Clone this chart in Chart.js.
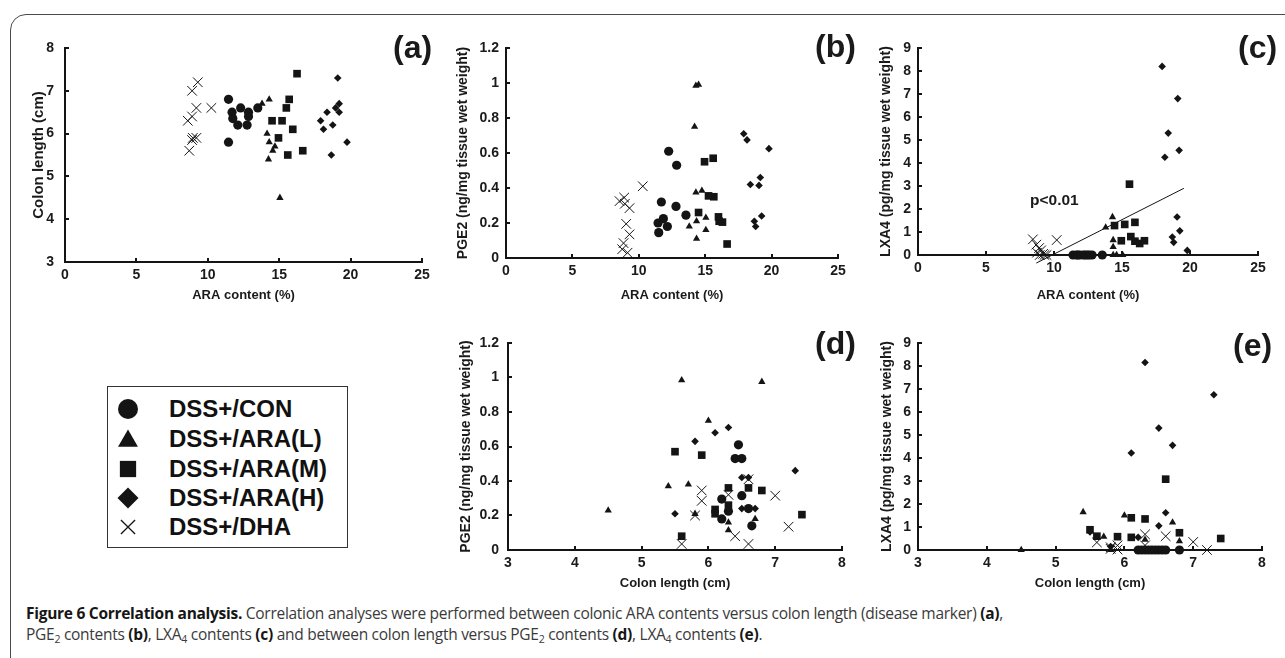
<!DOCTYPE html>
<html>
<head>
<meta charset="utf-8">
<script src="https://cdn.jsdelivr.net/npm/chart.js@4/dist/chart.umd.min.js"></script>
<style>
  html, body { margin:0; padding:0; background:#fff; width:1285px; height:658px; overflow:hidden; }
  #frame { position:absolute; left:10px; top:14px; width:1300px; height:720px; border:1.5px solid #4a4a4a; border-radius:16px; box-sizing:border-box; }
  canvas.pn { position:absolute; }
  .lab { position:absolute; font-family:"Liberation Sans", Arial, sans-serif; font-weight:bold; color:#1a1a1a; white-space:nowrap; }
  .letter { font-size:32px; line-height:32px; }
  #legend { position:absolute; left:107px; top:386px; width:241px; height:162px; border:1.5px solid #333; box-sizing:border-box; }
  #legend canvas { position:absolute; left:0; top:0; }
  #legend .it { position:absolute; left:61px; font-family:"Liberation Sans", Arial, sans-serif; font-weight:bold; font-size:24px; line-height:24px; color:#111; white-space:nowrap; }
  #caption { position:absolute; left:26px; top:603px; font-family:"Open Sans", "Noto Sans", sans-serif; font-size:15.5px; line-height:20.6px; color:#3a3a3a; white-space:nowrap; }
  #caption b { color:#161616; font-weight:700; }
  #caption sub { font-size:0.68em; vertical-align:-0.28em; line-height:0; }
</style>
</head>
<body>
<div id="frame"></div>

<canvas id="pa" class="pn"></canvas>
<canvas id="pb" class="pn"></canvas>
<canvas id="pc" class="pn"></canvas>
<canvas id="pd" class="pn"></canvas>
<canvas id="pe" class="pn"></canvas>

<div class="lab letter" style="left:393px; top:31px;">(a)</div>
<div class="lab letter" style="left:815px; top:30px;">(b)</div>
<div class="lab letter" style="left:1238px; top:31px;">(c)</div>
<div class="lab letter" style="left:815px; top:327px;">(d)</div>
<div class="lab letter" style="left:1233px; top:329px;">(e)</div>
<div class="lab" style="left:1030px; top:191px; font-size:15.5px; line-height:18px;">p&lt;0.01</div>

<div id="legend">
  <canvas id="legcv" width="60" height="160"></canvas>
  <div class="it" style="top:10px;">DSS+/CON</div>
  <div class="it" style="top:40px;">DSS+/ARA(L)</div>
  <div class="it" style="top:70px;">DSS+/ARA(M)</div>
  <div class="it" style="top:99px;">DSS+/ARA(H)</div>
  <div class="it" style="top:128px;">DSS+/DHA</div>
</div>

<div id="caption"><span id="cap1"><b>Figure 6 Correlation analysis.</b> Correlation analyses were performed between colonic ARA contents versus colon length (disease marker) <b>(a)</b>,</span><br><span id="cap2">PGE<sub>2</sub> contents <b>(b)</b>, LXA<sub>4</sub> contents <b>(c)</b> and between colon length versus PGE<sub>2</sub> contents <b>(d)</b>, LXA<sub>4</sub> contents <b>(e)</b>.</span></div>

<script>
// ---------------- DATA ----------------
const groups = ['DSS+/CON', 'DSS+/ARA(L)', 'DSS+/ARA(M)', 'DSS+/ARA(H)', 'DSS+/DHA'];

// tick labels
const xTicksARA   = [0, 5, 10, 15, 20, 25];
const xTicksColon = [3, 4, 5, 6, 7, 8];
const yTicksColon = [3, 4, 5, 6, 7, 8];
const yTicksPGE   = [0, 0.2, 0.4, 0.6, 0.8, 1, 1.2];
const yTicksLXA   = [0, 1, 2, 3, 4, 5, 6, 7, 8, 9];

// (a) ARA content (%) vs colon length (cm)
const aCONx = [11.45, 11.7, 12.3, 12.85, 12.85, 11.75, 12.1, 12.75, 11.45, 13.5];
const aCONy = [6.8, 6.5, 6.6, 6.5, 6.4, 6.35, 6.2, 6.2, 5.8, 6.6];
const aLx   = [13.8, 14.3, 14.15, 14.3, 14.7, 14.55, 14.25, 15.05];
const aLy   = [6.7, 6.8, 6.0, 5.8, 5.7, 5.6, 5.4, 4.5];
const aMx   = [16.25, 15.7, 15.5, 14.5, 15.2, 15.95, 14.95, 15.6, 16.65];
const aMy   = [7.4, 6.8, 6.6, 6.3, 6.3, 6.1, 5.9, 5.5, 5.6];
const aHx   = [19.1, 19.2, 18.95, 19.2, 18.35, 17.9, 18.1, 18.75, 19.75, 18.65];
const aHy   = [7.3, 6.7, 6.6, 6.5, 6.5, 6.3, 6.1, 6.2, 5.8, 5.5];
const aDx   = [9.3, 8.9, 9.2, 10.25, 8.9, 8.6, 8.95, 9.2, 8.9, 8.7];
const aDy   = [7.2, 7.0, 6.6, 6.6, 6.4, 6.3, 5.9, 5.9, 5.85, 5.6];

// (b) ARA content (%) vs PGE2
const bCONx = [12.25, 12.85, 11.7, 12.8, 13.55, 11.45, 11.85, 12.15, 11.5];
const bCONy = [0.61, 0.53, 0.32, 0.295, 0.245, 0.2, 0.225, 0.18, 0.145];
const bLx   = [14.3, 14.5, 14.2, 14.3, 14.75, 13.8, 14.35, 15.05, 15.05, 14.35];
const bLy   = [0.985, 0.99, 0.75, 0.375, 0.385, 0.18, 0.21, 0.23, 0.16, 0.11];
const bMx   = [14.95, 15.6, 15.25, 15.65, 14.5, 16.0, 16.05, 16.3, 16.65];
const bMy   = [0.55, 0.57, 0.355, 0.35, 0.26, 0.235, 0.21, 0.205, 0.08];
const bHx   = [17.9, 18.15, 19.8, 19.15, 18.4, 19.05, 18.7, 19.25, 18.8];
const bHy   = [0.71, 0.675, 0.625, 0.46, 0.42, 0.415, 0.21, 0.24, 0.18];
const bDx   = [10.3, 8.9, 8.55, 8.95, 9.3, 9.05, 9.3, 8.85, 8.75, 9.15];
const bDy   = [0.41, 0.345, 0.325, 0.31, 0.285, 0.195, 0.135, 0.085, 0.05, 0.03];

// (c) ARA content (%) vs LXA4
const cCONx = [11.4, 11.65, 11.9, 12.15, 12.45, 12.8, 13.55, 11.75, 12.3, 12.6];
const cCONy = [0, 0, 0, 0, 0, 0, 0, 0, 0, 0];
const cLx   = [14.3, 13.8, 14.35, 14.35, 14.35, 15.05, 14.6];
const cLy   = [1.65, 1.2, 0.65, 0.35, 0, 0, 0];
const cMx   = [15.55, 14.45, 15.2, 15.95, 14.95, 15.65, 15.95, 16.65, 16.3];
const cMy   = [3.08, 1.28, 1.33, 1.42, 0.62, 0.8, 0.6, 0.62, 0.5];
const cHx   = [17.95, 19.1, 18.4, 18.15, 19.2, 19.05, 19.25, 18.7, 18.8, 19.8];
const cHy   = [8.2, 6.8, 5.3, 4.25, 4.55, 1.65, 1.05, 0.78, 0.55, 0.2];
const cDx   = [8.45, 10.2, 8.7, 8.9, 9.05, 8.75, 9.2, 9.3, 8.95, 9.45];
const cDy   = [0.68, 0.65, 0.45, 0.3, 0.2, 0.1, 0.05, 0, 0, 0];
const cRegX = [8.7, 19.55];
const cRegY = [-0.35, 2.9];

// (d) colon length (cm) vs PGE2
const dCONx = [6.45, 6.4, 6.5, 6.5, 6.2, 6.3, 6.6, 6.65, 6.2];
const dCONy = [0.61, 0.53, 0.53, 0.315, 0.295, 0.225, 0.24, 0.14, 0.18];
const dLx   = [5.6, 6.8, 6.0, 5.4, 5.7, 4.5, 5.8, 6.3, 6.3, 6.7];
const dLy   = [0.985, 0.975, 0.75, 0.37, 0.38, 0.23, 0.21, 0.16, 0.115, 0.18];
const dMx   = [5.5, 5.9, 6.3, 6.6, 6.8, 6.1, 6.3, 6.1, 7.4, 5.6];
const dMy   = [0.57, 0.55, 0.36, 0.36, 0.345, 0.235, 0.26, 0.21, 0.205, 0.08];
const dHx   = [6.3, 6.1, 5.8, 7.3, 6.5, 6.6, 5.5, 6.5, 6.7, 6.2];
const dHy   = [0.71, 0.68, 0.63, 0.46, 0.42, 0.42, 0.21, 0.24, 0.24, 0.18];
const dDx   = [5.9, 5.9, 6.3, 7.0, 7.2, 6.4, 6.6, 5.6, 5.8, 6.6];
const dDy   = [0.345, 0.285, 0.32, 0.315, 0.135, 0.08, 0.035, 0.035, 0.2, 0.41];

// (e) colon length (cm) vs LXA4
const eCONx = [6.2, 6.25, 6.3, 6.35, 6.4, 6.45, 6.5, 6.55, 6.6, 6.8];
const eCONy = [0, 0, 0, 0, 0, 0, 0, 0, 0, 0];
const eLx   = [5.4, 6.0, 6.7, 5.7, 6.3, 6.8, 4.5, 5.8];
const eLy   = [1.65, 1.5, 1.2, 0.58, 0.45, 0.38, 0, 0];
const eMx   = [6.6, 6.1, 6.3, 6.8, 7.4, 5.6, 5.9, 6.1, 5.5];
const eMy   = [3.08, 1.4, 1.35, 0.75, 0.5, 0.6, 0.58, 0.55, 0.88];
const eHx   = [6.3, 7.3, 6.5, 6.1, 6.7, 6.6, 6.5, 5.5, 6.2, 5.8];
const eHy   = [8.15, 6.75, 5.3, 4.22, 4.55, 1.62, 1.05, 0.78, 0.55, 0.15];
const eDx   = [5.6, 5.8, 5.9, 6.3, 6.6, 7.0, 7.2, 5.9, 5.8, 6.3];
const eDy   = [0.33, 0.12, 0.2, 0.68, 0.6, 0.35, 0, 0.02, 0.05, 0.2];

// ---------------- STYLE / BUILD ----------------
const INK = '#141414';
const FONT = '"Liberation Sans", Arial, sans-serif';
const markerStyles = [
  { pointStyle: 'circle',   radius: 4.6, borderWidth: 0 },
  { pointStyle: 'triangle', radius: 4.2, borderWidth: 0 },
  { pointStyle: 'rect',     radius: 5.4, borderWidth: 0 },
  { pointStyle: 'rectRot',  radius: 3.8, borderWidth: 0 },
  { pointStyle: 'crossRot', radius: 6.8, borderWidth: 1 }
];

function zip(xs, ys) { return xs.map((x, i) => ({ x: x, y: ys[i] })); }

function groupSets(pairs) {
  // order: DHA drawn first, then others
  const order = [4, 0, 1, 2, 3];
  return order.map(g => {
    const m = markerStyles[g];
    return {
      label: groups[g],
      data: zip(pairs[g][0], pairs[g][1]),
      pointStyle: m.pointStyle,
      pointRadius: m.radius,
      pointBorderWidth: m.borderWidth,
      pointBackgroundColor: INK,
      pointBorderColor: INK,
      showLine: false,
      clip: false
    };
  });
}

const inTicks = {
  id: 'inTicks',
  beforeDatasetsDraw(chart) {
    const { ctx, chartArea: a, scales: { x, y } } = chart;
    ctx.save();
    ctx.strokeStyle = INK;
    ctx.lineWidth = 2;
    ctx.beginPath();
    x.ticks.forEach(t => {
      const p = Math.round(x.getPixelForValue(t.value));
      ctx.moveTo(p, a.bottom); ctx.lineTo(p, a.bottom - 4);
    });
    y.ticks.forEach(t => {
      const p = Math.round(y.getPixelForValue(t.value));
      ctx.moveTo(a.left, p); ctx.lineTo(a.left + 4, p);
    });
    ctx.stroke();
    ctx.restore();
  }
};

function makePanel(id, box, area, cfg) {
  const cv = document.getElementById(id);
  const w = box.r - box.l, h = box.b - box.t;
  cv.width = w; cv.height = h;
  cv.style.left = box.l + 'px'; cv.style.top = box.t + 'px';
  cv.style.width = w + 'px'; cv.style.height = h + 'px';
  const datasets = groupSets(cfg.pairs);
  if (cfg.reg) {
    datasets.push({
      label: 'fit',
      data: zip(cfg.reg[0], cfg.reg[1]),
      showLine: true,
      borderColor: INK,
      borderWidth: 1,
      pointRadius: 0,
      fill: false,
      clip: false
    });
  }
  const axisCommon = (ticksArr, pad) => ({
    type: 'linear',
    min: ticksArr[0],
    max: ticksArr[ticksArr.length - 1],
    afterBuildTicks: s => { s.ticks = ticksArr.map(v => ({ value: v })); },
    grid: { display: true, drawOnChartArea: false, drawTicks: false, color: 'rgba(0,0,0,0)' },
    border: { display: true, color: INK, width: 2 },
    ticks: {
      color: '#1a1a1a', padding: pad, autoSkip: false, maxRotation: 0,
      font: { family: FONT, weight: 'bold', size: 14 },
      callback: v => String(v)
    }
  });
  const xAx = axisCommon(cfg.xTicks, cfg.xPad);
  xAx.afterFit = s => { s.height = box.b - area.b; };
  xAx.title = { display: true, text: cfg.xTitle, color: '#1a1a1a', padding: 0,
                font: { family: FONT, weight: 'bold', size: 13 } };
  const yAx = axisCommon(cfg.yTicks, cfg.yPad);
  yAx.afterFit = s => { s.width = area.l - box.l; };
  yAx.title = { display: true, text: cfg.yTitle, color: '#1a1a1a', padding: 0,
                font: { family: FONT, weight: 'bold', size: cfg.yTitleSize || 14 } };
  return new Chart(cv, {
    type: 'scatter',
    data: { datasets },
    options: {
      responsive: false, animation: false, devicePixelRatio: 1,
      layout: { padding: { left: 0, bottom: 0, top: area.t - box.t, right: box.r - area.r } },
      plugins: { legend: { display: false }, tooltip: { enabled: false } },
      scales: { x: xAx, y: yAx }
    },
    plugins: [inTicks]
  });
}

makePanel('pa', { l: 30, t: 28, r: 442, b: 303 }, { l: 65, t: 48, r: 422, b: 262 }, {
  pairs: [[aCONx, aCONy], [aLx, aLy], [aMx, aMy], [aHx, aHy], [aDx, aDy]],
  xTicks: xTicksARA, yTicks: yTicksColon, xTitle: 'ARA content (%)', yTitle: 'Colon length (cm)',
  xPad: 5, yPad: 11, yTitleSize: 15
});
makePanel('pb', { l: 455, t: 28, r: 858, b: 303 }, { l: 506, t: 48, r: 838, b: 258 }, {
  pairs: [[bCONx, bCONy], [bLx, bLy], [bMx, bMy], [bHx, bHy], [bDx, bDy]],
  xTicks: xTicksARA, yTicks: yTicksPGE, xTitle: 'ARA content (%)', yTitle: 'PGE2 (ng/mg tissue wet weight)',
  xPad: 5, yPad: 7
});
makePanel('pc', { l: 878, t: 28, r: 1278, b: 303 }, { l: 918, t: 48, r: 1258, b: 255 }, {
  pairs: [[cCONx, cCONy], [cLx, cLy], [cMx, cMy], [cHx, cHy], [cDx, cDy]],
  reg: [cRegX, cRegY],
  xTicks: xTicksARA, yTicks: yTicksLXA, xTitle: 'ARA content (%)', yTitle: 'LXA4 (pg/mg tissue wet weight)',
  xPad: 5, yPad: 7
});
makePanel('pd', { l: 458, t: 323, r: 860, b: 591 }, { l: 508, t: 343, r: 842, b: 550 }, {
  pairs: [[dCONx, dCONy], [dLx, dLy], [dMx, dMy], [dHx, dHy], [dDx, dDy]],
  xTicks: xTicksColon, yTicks: yTicksPGE, xTitle: 'Colon length (cm)', yTitle: 'PGE2 (ng/mg tissue wet weight)',
  xPad: 5, yPad: 9
});
makePanel('pe', { l: 879, t: 323, r: 1280, b: 591 }, { l: 918, t: 343, r: 1262, b: 550 }, {
  pairs: [[eCONx, eCONy], [eLx, eLy], [eMx, eMy], [eHx, eHy], [eDx, eDy]],
  xTicks: xTicksColon, yTicks: yTicksLXA, xTitle: 'Colon length (cm)', yTitle: 'LXA4 (pg/mg tissue wet weight)',
  xPad: 5, yPad: 7
});

// ---------------- LEGEND MARKERS ----------------
(function () {
  const cv = document.getElementById('legcv');
  const ctx = cv.getContext('2d');
  const legendMarkers = [
    { pointStyle: 'circle',   radius: 10,  borderWidth: 0 },
    { pointStyle: 'triangle', radius: 11.5, borderWidth: 0 },
    { pointStyle: 'rect',     radius: 11.5, borderWidth: 0 },
    { pointStyle: 'rectRot',  radius: 10.5, borderWidth: 0 },
    { pointStyle: 'crossRot', radius: 10,  borderWidth: 1.3 }
  ];
  const rowsY = [22, 52, 82, 111, 140];
  ctx.fillStyle = INK; ctx.strokeStyle = INK;
  legendMarkers.forEach((m, i) => {
    ctx.lineWidth = m.borderWidth;
    const opts = { pointStyle: m.pointStyle, radius: m.radius, rotation: 0, borderWidth: m.borderWidth };
    if (Chart.helpers && Chart.helpers.drawPoint) {
      Chart.helpers.drawPoint(ctx, opts, 20, rowsY[i] + (m.pointStyle === 'triangle' ? 2 : 0));
    }
  });
})();

// ---------------- CAPTION FIT ----------------
function fitCaption() {
  const s1 = document.getElementById('cap1');
  const s2 = document.getElementById('cap2');
  const target = 977;
  const w = s1.getBoundingClientRect().width;
  const n = s1.textContent.length;
  const ls = (target - w) / n;
  s1.style.letterSpacing = ls + 'px';
  s2.style.letterSpacing = ls + 'px';
}
fitCaption();
if (document.fonts && document.fonts.ready) document.fonts.ready.then(() => {
  document.getElementById('cap1').style.letterSpacing = '0px';
  document.getElementById('cap2').style.letterSpacing = '0px';
  fitCaption();
});
</script>
</body>
</html>
